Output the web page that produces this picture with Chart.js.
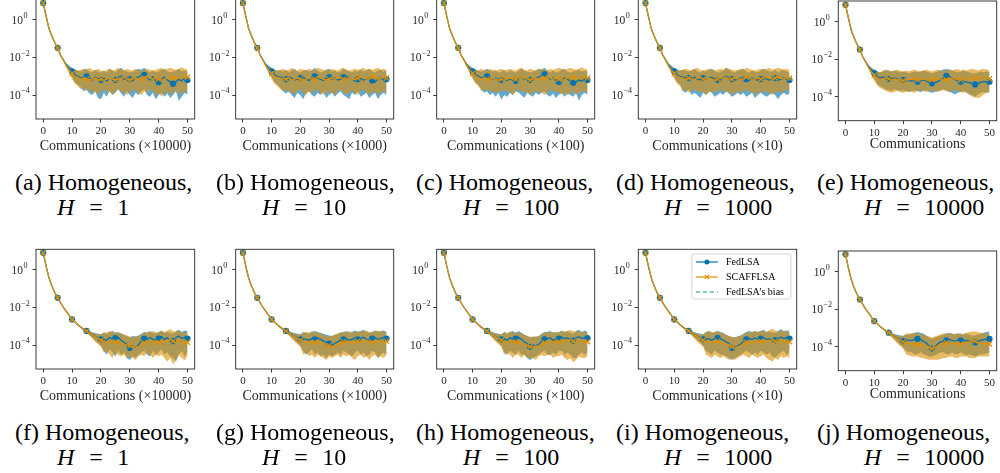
<!DOCTYPE html>
<html>
<head>
<meta charset="utf-8">
<script src="https://cdn.jsdelivr.net/npm/chart.js@4.4.0/dist/chart.umd.min.js"></script>
<style>
  html, body { margin: 0; padding: 0; background: #fff; }
  body { width: 1000px; height: 473px; overflow: hidden; position: relative; }
  .panel { position: absolute; }
  .cap { position: absolute; font-family: "Liberation Serif", "Times New Roman", serif;
         font-size: 24px; line-height: 24px; color: #000; white-space: nowrap; }
  .cap i { font-style: italic; }
  .cap .eq { margin: 0 0.6em 0 0.62em; }
</style>
</head>
<body>
<script>
// ---- axis values ----
const xs = [0,1,2,3,4,5,6,7,8,9,10,11,12,13,14,15,16,17,18,19,20,21,22,23,24,25,
            26,27,28,29,30,31,32,33,34,35,36,37,38,39,40,41,42,43,44,45,46,47,48,49,50];
const xTicks = [0, 10, 20, 30, 40, 50];
const yTicks = [1, 1e-2, 1e-4];
const yMin = 5.25e-6, yMax = 12.7;
const hValues = ['1', '10', '100', '1000', '10000'];
const xUnits = [' (×10000)', ' (×1000)', ' (×100)', ' (×10)', ''];
const tags = ['a','b','c','d','e','f','g','h','i','j'];
const legendOrder = ['FedLSA', 'SCAFFLSA', 'FedLSA’s bias'];

// ---- shared decay phase, top row (x = 0..12) ----
const topFedMeanHead  = [8,1.6,0.35,0.14,0.063,0.033,0.0135,0.0074,0.004,0.0026,0.0018,0.0012,0.001];
const topFedLowHead   = [8,1.6,0.35,0.14,0.063,0.033,0.0135,0.0072,0.0032,0.0018,9e-4,5e-4,3.5e-4];
const topFedHighHead  = [8,1.6,0.35,0.14,0.063,0.033,0.0138,0.0078,0.005,0.0036,0.0028,0.0022,0.002];
const topScafMeanHead = [8,1.6,0.35,0.14,0.063,0.032,0.013,0.007,0.0036,0.0021,0.0014,0.001,8.5e-4];
const topScafLowHead  = [8,1.6,0.35,0.14,0.063,0.032,0.0128,0.0068,0.0028,0.0015,7e-4,4e-4,3e-4];
const topScafHighHead = [8,1.6,0.35,0.14,0.063,0.032,0.0133,0.0074,0.0045,0.0032,0.0025,0.0022,0.002];

// ---- shared decay phase, bottom row (x = 0..20) ----
const botFedMeanHead  = [8.4,1.6,0.38,0.14,0.063,0.033,0.018,0.01,0.0063,0.0038,0.0023,0.0017,0.0012,9e-4,7e-4,5.6e-4,4.5e-4,3.5e-4,2.9e-4,2.4e-4,2e-4];
const botFedLowHead   = [8.4,1.6,0.38,0.14,0.063,0.033,0.018,0.01,0.0063,0.0038,0.0023,0.0017,0.00115,8.4e-4,6.2e-4,4.6e-4,3.4e-4,2.5e-4,1.8e-4,1.3e-4,9e-5];
const botFedHighHead  = [8.4,1.6,0.38,0.14,0.063,0.033,0.018,0.01,0.0063,0.0038,0.0023,0.0017,0.00125,9.6e-4,7.8e-4,6.6e-4,5.6e-4,4.8e-4,4.4e-4,4e-4,3.8e-4];
const botScafMeanHead = [8.4,1.6,0.38,0.14,0.063,0.033,0.018,0.01,0.0063,0.0038,0.0023,0.0017,0.0012,9e-4,7e-4,5.6e-4,4.4e-4,3.4e-4,2.8e-4,2.2e-4,1.8e-4];
const botScafLowHead  = [8.4,1.6,0.38,0.14,0.063,0.033,0.018,0.01,0.0063,0.0038,0.0023,0.0017,0.00115,8.4e-4,6e-4,4.4e-4,3.2e-4,2.2e-4,1.5e-4,1.1e-4,8e-5];
const botScafHighHead = [8.4,1.6,0.38,0.14,0.063,0.033,0.018,0.01,0.0063,0.0038,0.0023,0.0017,0.00125,9.6e-4,7.6e-4,6.4e-4,5.4e-4,4.6e-4,4e-4,3.6e-4,3.4e-4];

// ---- plateau phase, top row (x = 13..50) ----
const aFedMean = [8e-4,9e-4,1e-3,8e-4,6.3e-4,9e-4,7e-4,6.3e-4,8e-4,5.6e-4, 8e-4,7e-4,6.3e-4,9e-4,1e-3,7e-4,8e-4,7e-4,5.6e-4,8e-4, 9e-4,1.1e-3,1.2e-3,8e-4,6.3e-4,9e-4,5.6e-4,4.8e-4,7e-4,9e-4, 6.3e-4,5e-4,4e-4,5e-4,7e-4,5.6e-4,8e-4,6.3e-4];
const aFedLow  = [2.5e-4,1.6e-4,2e-4,1.2e-4,1e-4,1.6e-4,7e-5,6e-5,1.3e-4,8e-5, 1.6e-4,1e-4,1.3e-4,2e-4,1.2e-4,8e-5,1.6e-4,1e-4,7e-5,1.3e-4, 1e-4,1.6e-4,2e-4,1e-4,8e-5,1.3e-4,6e-5,1e-4,1.3e-4,8e-5, 1.2e-4,7e-5,1e-4,1.6e-4,5e-5,8e-5,1.3e-4,1e-4];
const aFedHigh = [1.8e-3,2.2e-3,2.5e-3,1.8e-3,1.6e-3,2.2e-3,1.8e-3,1.6e-3,2e-3,1.6e-3, 2.5e-3,2e-3,1.6e-3,2.2e-3,2.8e-3,2e-3,1.8e-3,1.6e-3,1.8e-3,2e-3, 2.5e-3,2.2e-3,2.8e-3,2e-3,1.6e-3,2e-3,1.6e-3,1.8e-3,2.2e-3,2.5e-3, 1.8e-3,1.6e-3,1.8e-3,2e-3,2.5e-3,1.8e-3,2e-3,1.8e-3];
const aScafMean = [7e-4,8e-4,7e-4,6.3e-4,7e-4,8e-4,6.3e-4,7e-4,6.3e-4,7e-4, 8e-4,7e-4,6.3e-4,7e-4,8e-4,9e-4,7e-4,6.3e-4,7e-4,8e-4, 7e-4,6.3e-4,8e-4,9e-4,8e-4,7e-4,8e-4,7e-4,6.3e-4,7e-4, 8e-4,9e-4,8e-4,7e-4,8e-4,9e-4,8e-4,9e-4];
const aScafLow  = [2e-4,2.5e-4,1.6e-4,2e-4,1.3e-4,1.6e-4,1e-4,1.6e-4,2e-4,1.3e-4, 1.6e-4,1e-4,1.6e-4,2e-4,1.3e-4,1.6e-4,1e-4,1.3e-4,2e-4,1.6e-4, 1.3e-4,1e-4,1.6e-4,1.3e-4,2e-4,1.6e-4,1e-4,1.3e-4,8e-5,1.3e-4, 1.6e-4,1e-4,1.3e-4,2e-4,1e-4,1.3e-4,1.6e-4,1.3e-4];
const aScafHigh = [2.2e-3,2.5e-3,2e-3,2.8e-3,2.2e-3,2e-3,2.5e-3,2e-3,1.8e-3,2.2e-3, 2.5e-3,2e-3,2.2e-3,2.8e-3,2.2e-3,2e-3,2.5e-3,2.2e-3,2e-3,2.5e-3, 2.2e-3,1.8e-3,2.2e-3,2.5e-3,2.2e-3,2e-3,2.2e-3,2.5e-3,2.8e-3,2.2e-3, 2.5e-3,2.8e-3,2.5e-3,2.2e-3,2.5e-3,3e-3,2.5e-3,2.2e-3];

const bFedMean = [9e-4,8e-4,7e-4,9e-4,8e-4,6.3e-4,7e-4,8e-4,9e-4,7e-4, 6e-4,8e-4,1e-3,8e-4,7e-4,6e-4,8e-4,9e-4,7e-4,8e-4, 6.3e-4,7e-4,9e-4,1e-3,8e-4,6.3e-4,5.6e-4,7e-4,8e-4,6.3e-4, 7e-4,8e-4,6e-4,5e-4,7e-4,8e-4,6.3e-4,7e-4];
const bFedLow  = [2.5e-4,1.6e-4,1.2e-4,1.6e-4,1e-4,7e-5,1.3e-4,1e-4,6e-5,1.3e-4, 1.6e-4,1e-4,8e-5,1.3e-4,1e-4,1.6e-4,7e-5,1e-4,1.3e-4,8e-5, 1.2e-4,1.6e-4,1e-4,8e-5,6e-5,1.3e-4,1e-4,1.6e-4,8e-5,1e-4, 1.3e-4,7e-5,1e-4,1.3e-4,6e-5,1e-4,1.3e-4,1e-4];
const bFedHigh = [2e-3,1.8e-3,2.2e-3,1.6e-3,2e-3,2.5e-3,1.8e-3,1.6e-3,2e-3,2.2e-3, 1.8e-3,2e-3,2.8e-3,2e-3,1.6e-3,1.8e-3,2.2e-3,2.5e-3,1.8e-3,2e-3, 1.6e-3,1.8e-3,2.5e-3,2.2e-3,1.8e-3,1.6e-3,2e-3,1.8e-3,2.2e-3,1.8e-3, 2e-3,2.5e-3,1.8e-3,1.6e-3,2e-3,2.2e-3,1.8e-3,2e-3];
const bScafMean = [8e-4,7e-4,7e-4,8e-4,6.3e-4,7e-4,8e-4,7e-4,6.3e-4,7e-4, 8e-4,7e-4,7e-4,9e-4,8e-4,7e-4,6.3e-4,7e-4,8e-4,7e-4, 8e-4,9e-4,7e-4,7e-4,8e-4,6.3e-4,7e-4,8e-4,9e-4,8e-4, 7e-4,8e-4,9e-4,8e-4,7e-4,8e-4,9e-4,8e-4];
const bScafLow  = [2e-4,1.6e-4,2e-4,1.3e-4,1.6e-4,1e-4,1.6e-4,2e-4,1.3e-4,1e-4, 1.6e-4,1.3e-4,1.6e-4,2e-4,1.3e-4,1e-4,1.3e-4,1.6e-4,1.3e-4,1e-4, 1.6e-4,2e-4,1.3e-4,1e-4,1.3e-4,1.6e-4,1.3e-4,1e-4,1.6e-4,2e-4, 1.3e-4,1e-4,1.6e-4,1.3e-4,1e-4,1.6e-4,1.3e-4,1.6e-4];
const bScafHigh = [2.2e-3,2.5e-3,2e-3,2.2e-3,2.8e-3,2.2e-3,2e-3,2.5e-3,2.2e-3,2e-3, 2.5e-3,2.2e-3,2e-3,2.8e-3,2.5e-3,2.2e-3,2e-3,2.2e-3,2.5e-3,2.2e-3, 2e-3,2.5e-3,2.8e-3,2.2e-3,2e-3,2.2e-3,2.5e-3,2.2e-3,2.5e-3,2.8e-3, 2.2e-3,2.5e-3,2.2e-3,2.5e-3,2.8e-3,2.2e-3,2.5e-3,2.2e-3];

const cFedMean = [8e-4,9e-4,1e-3,8e-4,7e-4,8e-4,6.3e-4,6.3e-4,7e-4,6e-4, 7e-4,6.3e-4,5.6e-4,8e-4,9e-4,7e-4,7e-4,6.3e-4,7e-4,8e-4, 9e-4,1.1e-3,1.3e-3,9e-4,7e-4,8e-4,6e-4,5e-4,6.3e-4,8e-4, 7e-4,5.6e-4,4.5e-4,5e-4,6.3e-4,5.6e-4,7e-4,6.3e-4];
const cFedLow  = [2e-4,1.3e-4,1.6e-4,1e-4,1.3e-4,8e-5,1.3e-4,5.6e-5,1e-4,8e-5, 1.3e-4,1e-4,1.6e-4,1.3e-4,1e-4,7e-5,1.3e-4,1e-4,8e-5,1.3e-4, 1e-4,1.3e-4,1.6e-4,1e-4,8e-5,1.2e-4,7e-5,1e-4,1.3e-4,8e-5, 1.2e-4,1e-4,8e-5,1.3e-4,5e-5,1e-4,1.3e-4,1e-4];
const cFedHigh = [1.8e-3,2e-3,2.5e-3,2e-3,1.8e-3,2e-3,1.6e-3,1.8e-3,2.2e-3,1.6e-3, 2e-3,1.8e-3,1.6e-3,2e-3,2.5e-3,2e-3,1.8e-3,1.6e-3,1.8e-3,2e-3, 2.5e-3,2.2e-3,2.8e-3,2e-3,1.6e-3,2e-3,1.6e-3,1.8e-3,2.2e-3,2.5e-3, 1.8e-3,1.6e-3,1.8e-3,2e-3,2.2e-3,1.8e-3,2e-3,1.8e-3];
const cScafMean = [7e-4,8e-4,7e-4,7e-4,8e-4,7e-4,6.3e-4,7e-4,6.3e-4,7e-4, 8e-4,7e-4,7e-4,8e-4,9e-4,8e-4,7e-4,6.3e-4,7e-4,8e-4, 7e-4,7e-4,8e-4,9e-4,8e-4,7e-4,8e-4,7e-4,6.3e-4,7e-4, 8e-4,9e-4,8e-4,7e-4,8e-4,9e-4,8e-4,8e-4];
const cScafLow  = [1.6e-4,2e-4,1.6e-4,2e-4,1.3e-4,1.6e-4,1.3e-4,1.6e-4,2e-4,1.3e-4, 1.6e-4,1e-4,1.6e-4,2e-4,1.3e-4,1.6e-4,1.3e-4,1e-4,1.6e-4,1.3e-4, 1.6e-4,1.3e-4,1e-4,1.3e-4,2e-4,1.6e-4,1.3e-4,1.6e-4,1e-4,1.3e-4, 1e-4,1.3e-4,1.6e-4,1e-4,1.3e-4,1.6e-4,1.3e-4,1.6e-4];
const cScafHigh = [2.5e-3,2.2e-3,2e-3,2.5e-3,2.2e-3,2e-3,2.2e-3,2.5e-3,2e-3,2.2e-3, 2.5e-3,2.2e-3,2e-3,2.5e-3,2.8e-3,2.2e-3,2e-3,2.5e-3,2.2e-3,2e-3, 2.2e-3,2.5e-3,2.2e-3,2e-3,2.5e-3,2.2e-3,2.5e-3,2.8e-3,2.5e-3,2.2e-3, 2.5e-3,2.8e-3,2.5e-3,2.2e-3,2.5e-3,3e-3,2.5e-3,2.2e-3];

const dFedMean = [9e-4,8e-4,8e-4,7e-4,9e-4,7e-4,6.3e-4,8e-4,7e-4,8e-4, 9e-4,7e-4,6.3e-4,7e-4,8e-4,1e-3,8e-4,7e-4,6.3e-4,7e-4, 8e-4,9e-4,7e-4,6e-4,8e-4,7e-4,6e-4,7e-4,9e-4,7e-4, 6.3e-4,7e-4,8e-4,6e-4,7e-4,8e-4,7e-4,6.3e-4];
const dFedLow  = [1.6e-4,1.3e-4,2e-4,1e-4,1.3e-4,1e-4,7e-5,1.3e-4,1e-4,1.6e-4, 1.3e-4,8e-5,1e-4,1.3e-4,1e-4,1.6e-4,1.2e-4,8e-5,1e-4,1.3e-4, 1e-4,1.3e-4,8e-5,1e-4,1.3e-4,7e-5,1e-4,1.3e-4,1e-4,8e-5, 1e-4,1.3e-4,1e-4,6e-5,1e-4,1.3e-4,1e-4,1.2e-4];
const dFedHigh = [2.2e-3,2e-3,1.8e-3,2e-3,2.5e-3,1.8e-3,1.6e-3,2e-3,1.8e-3,2.2e-3, 2.5e-3,2e-3,1.6e-3,1.8e-3,2e-3,2.8e-3,2.2e-3,1.8e-3,1.6e-3,2e-3, 2.2e-3,2.5e-3,1.8e-3,1.6e-3,2e-3,1.8e-3,1.6e-3,2e-3,2.5e-3,2e-3, 1.8e-3,1.8e-3,2.2e-3,1.6e-3,2e-3,2.2e-3,1.8e-3,1.6e-3];
const dScafMean = [8e-4,7e-4,8e-4,7e-4,7e-4,8e-4,9e-4,7e-4,7e-4,8e-4, 7e-4,6.3e-4,7e-4,8e-4,8e-4,9e-4,7e-4,7e-4,8e-4,7e-4, 7e-4,8e-4,9e-4,8e-4,7e-4,7e-4,8e-4,7e-4,8e-4,9e-4, 8e-4,7e-4,8e-4,9e-4,8e-4,7e-4,8e-4,8e-4];
const dScafLow  = [1.6e-4,2e-4,1.3e-4,1.6e-4,2e-4,1.6e-4,1.3e-4,1.6e-4,1e-4,1.3e-4, 1.6e-4,1.3e-4,1.6e-4,2e-4,1.6e-4,1.3e-4,1.6e-4,1e-4,1.3e-4,1.6e-4, 1.3e-4,1.6e-4,2e-4,1.3e-4,1.6e-4,1e-4,1.3e-4,1.6e-4,1.3e-4,1.6e-4, 1.3e-4,1e-4,1.3e-4,1.6e-4,1.3e-4,1.6e-4,2e-4,1.3e-4];
const dScafHigh = [2.2e-3,2.5e-3,2.2e-3,2e-3,2.5e-3,2.8e-3,2.2e-3,2e-3,2.2e-3,2.5e-3, 2.2e-3,2e-3,2.2e-3,2.5e-3,2.2e-3,2.8e-3,2.5e-3,2.2e-3,2e-3,2.2e-3, 2.5e-3,2.2e-3,2.8e-3,2.5e-3,2.2e-3,2e-3,2.2e-3,2.5e-3,2.2e-3,2.5e-3, 2.8e-3,2.2e-3,2.5e-3,2.8e-3,2.5e-3,2.2e-3,2.5e-3,2.2e-3];

const eFedMean = [1.1e-3,1e-3,9e-4,9e-4,1e-3,9e-4,8e-4,8e-4,8e-4,7e-4, 7e-4,7e-4,6.3e-4,7e-4,8e-4,7e-4,6e-4,5.2e-4,5.6e-4,6.3e-4, 8e-4,1e-3,1.3e-3,1.2e-3,1e-3,8e-4,7e-4,6.3e-4,6.3e-4,6e-4, 5.6e-4,5e-4,4.5e-4,5e-4,6e-4,6.3e-4,6e-4,6.3e-4];
const eFedLow  = [3e-4,2.5e-4,2.2e-4,2e-4,2.5e-4,2.2e-4,2e-4,2.2e-4,2e-4,1.8e-4, 2e-4,2.2e-4,2e-4,1.8e-4,2e-4,2.2e-4,1.8e-4,1.6e-4,1.8e-4,2e-4, 2.2e-4,2.5e-4,2.2e-4,1.8e-4,1.6e-4,1.3e-4,1.6e-4,1.8e-4,2e-4,1.6e-4, 1.3e-4,1.2e-4,1e-4,1.3e-4,1.6e-4,1.8e-4,1.6e-4,1.8e-4];
const eFedHigh = [2.2e-3,2.5e-3,2.5e-3,2.2e-3,2.5e-3,2.2e-3,2e-3,2.2e-3,2e-3,1.8e-3, 2e-3,2.2e-3,2e-3,2.2e-3,2.5e-3,2.2e-3,2e-3,1.8e-3,2e-3,2.2e-3, 2.5e-3,2.8e-3,3e-3,2.8e-3,2.5e-3,2.2e-3,2e-3,2.2e-3,2.5e-3,2.2e-3, 2e-3,1.8e-3,1.8e-3,2e-3,2.2e-3,2e-3,2.2e-3,2e-3];
const eScafMean = [9e-4,1e-3,9e-4,8e-4,9e-4,8e-4,8e-4,7e-4,8e-4,8e-4, 9e-4,8e-4,8e-4,8e-4,9e-4,8e-4,7e-4,8e-4,8e-4,9e-4, 9e-4,8e-4,8e-4,9e-4,1e-3,9e-4,8e-4,8e-4,9e-4,1e-3, 9e-4,9e-4,1e-3,9e-4,1e-3,1.1e-3,1e-3,9e-4];
const eScafLow  = [2.5e-4,2e-4,1.8e-4,1.6e-4,1.8e-4,2e-4,1.8e-4,1.6e-4,1.8e-4,2e-4, 1.8e-4,1.6e-4,2e-4,2.2e-4,2e-4,1.8e-4,2e-4,2.2e-4,2e-4,1.8e-4, 2e-4,2.2e-4,2e-4,1.8e-4,2e-4,2.2e-4,2e-4,1.8e-4,1.6e-4,1.8e-4, 1.3e-4,1e-4,9e-5,8.5e-5,1e-4,1.3e-4,1.6e-4,1.8e-4];
const eScafHigh = [2.5e-3,2.8e-3,2.5e-3,2.2e-3,2.5e-3,2.8e-3,2.5e-3,2.2e-3,2.5e-3,2.2e-3, 2.5e-3,2.8e-3,2.5e-3,2.2e-3,2.5e-3,2.8e-3,2.5e-3,2.2e-3,2.5e-3,2.8e-3, 2.5e-3,2.2e-3,2.5e-3,2.8e-3,2.5e-3,2.8e-3,3e-3,2.5e-3,2.8e-3,2.5e-3, 2.8e-3,3e-3,2.8e-3,2.5e-3,2.8e-3,3e-3,2.8e-3,2.5e-3];

// ---- plateau phase, bottom row (x = 21..50) ----
const fFedMean = [2e-4,1.8e-4,2.5e-4,2e-4,2.3e-4,2.5e-4,1.8e-4,1.4e-4,1.1e-4,7e-5, 9e-5,8e-5,1e-4,1.6e-4,2.2e-4,2e-4,2.5e-4,2e-4,1.8e-4,2.2e-4, 2.8e-4,2e-4,2.4e-4,1.8e-4,1.6e-4,2.5e-4,3e-4,2.2e-4,2.6e-4,2.2e-4];
const fFedLow  = [5e-5,3e-5,6e-5,4e-5,2.5e-5,5e-5,3e-5,4e-5,2e-5,1.6e-5, 2.5e-5,2e-5,3e-5,4e-5,5e-5,3e-5,2.5e-5,5e-5,3e-5,4e-5, 6e-5,3e-5,4e-5,2.5e-5,2e-5,1.3e-5,3e-5,5e-5,2.5e-5,4e-5];
const fFedHigh = [4.5e-4,4e-4,5e-4,5.5e-4,4.5e-4,5e-4,4e-4,3.5e-4,3e-4,2.5e-4, 3e-4,2.8e-4,3.2e-4,4e-4,5e-4,4.5e-4,5.5e-4,4.5e-4,4e-4,5e-4, 6e-4,4.5e-4,5e-4,4.5e-4,4e-4,5.5e-4,6.5e-4,5e-4,6e-4,5.5e-4];
const fScafMean = [1.6e-4,1.4e-4,1.6e-4,1.3e-4,1.5e-4,1.4e-4,1.2e-4,1.1e-4,1e-4,9e-5, 8e-5,9e-5,7.5e-5,1e-4,1.3e-4,1.6e-4,1.3e-4,1.5e-4,1.6e-4,1.4e-4, 1.8e-4,1.5e-4,1.6e-4,2e-4,1.6e-4,1.4e-4,1.8e-4,1.5e-4,1.3e-4,1.4e-4];
const fScafLow  = [4e-5,5e-5,3e-5,2e-5,4e-5,3e-5,2.5e-5,3e-5,2e-5,2.5e-5, 2e-5,1.6e-5,2.5e-5,3e-5,2.5e-5,4e-5,3e-5,2e-5,3e-5,2.5e-5, 3e-5,2e-5,1.3e-5,2e-5,9e-6,1.6e-5,3e-5,2e-5,1.6e-5,2.5e-5];
const fScafHigh = [5e-4,4.5e-4,5.5e-4,4.5e-4,5e-4,4e-4,4.5e-4,3.5e-4,3.2e-4,2.8e-4, 2.5e-4,3e-4,2.8e-4,3.5e-4,4.5e-4,5e-4,4.5e-4,5.5e-4,5e-4,4.5e-4, 5.5e-4,5e-4,6e-4,7e-4,5.5e-4,5e-4,6e-4,5e-4,4.5e-4,5e-4];

const gFedMean = [2.2e-4,2e-4,1.8e-4,2.2e-4,2e-4,2.4e-4,2e-4,1.6e-4,1.4e-4,1.2e-4, 1e-4,1.2e-4,1.5e-4,1.8e-4,2e-4,2.2e-4,1.8e-4,2e-4,2.4e-4,2e-4, 2.2e-4,2.6e-4,2e-4,1.8e-4,2.2e-4,2.5e-4,2e-4,2.2e-4,2.6e-4,2.2e-4];
const gFedLow  = [5e-5,3e-5,4e-5,6e-5,3e-5,4e-5,2.5e-5,3e-5,2e-5,3e-5, 2.5e-5,3e-5,4e-5,3e-5,5e-5,4e-5,3e-5,2.5e-5,4e-5,5e-5, 3e-5,4e-5,2.5e-5,3e-5,5e-5,4e-5,2e-5,3e-5,4e-5,3e-5];
const gFedHigh = [5e-4,4.5e-4,4e-4,5e-4,5.5e-4,5e-4,4.5e-4,4e-4,3.5e-4,3.2e-4, 3e-4,3.5e-4,4e-4,4.5e-4,5e-4,5.5e-4,4.5e-4,5e-4,6e-4,5e-4, 5.5e-4,6.5e-4,5e-4,4.5e-4,5e-4,6e-4,5e-4,5.5e-4,6e-4,5e-4];
const gScafMean = [1.6e-4,1.5e-4,1.3e-4,1.5e-4,1.4e-4,1.6e-4,1.3e-4,1.2e-4,1e-4,9e-5, 8e-5,9e-5,1.1e-4,1.3e-4,1.5e-4,1.4e-4,1.6e-4,1.3e-4,1.5e-4,1.6e-4, 1.4e-4,1.6e-4,1.8e-4,1.5e-4,1.4e-4,1.6e-4,1.8e-4,1.5e-4,1.4e-4,1.6e-4];
const gScafLow  = [3e-5,4e-5,2.5e-5,3e-5,2e-5,3e-5,2.5e-5,2e-5,1.6e-5,2.5e-5, 2e-5,2.5e-5,3e-5,2e-5,3e-5,2.5e-5,3e-5,2e-5,1.6e-5,2.5e-5, 3e-5,2e-5,2.5e-5,1.6e-5,2.5e-5,3e-5,2e-5,2.5e-5,2e-5,3e-5];
const gScafHigh = [4.5e-4,5e-4,4.5e-4,5.5e-4,4.5e-4,5e-4,4e-4,3.5e-4,3e-4,2.8e-4, 3e-4,3.5e-4,4e-4,5e-4,4.5e-4,5e-4,5.5e-4,4.5e-4,5e-4,5.5e-4, 5e-4,5.5e-4,6e-4,5e-4,4.5e-4,5.5e-4,6e-4,5e-4,5.5e-4,5e-4];

const hFedMean = [2.2e-4,1.8e-4,2.4e-4,2e-4,2.2e-4,2.6e-4,2e-4,1.5e-4,1.2e-4,8e-5, 1e-4,9e-5,1.1e-4,1.5e-4,2e-4,2.2e-4,2.4e-4,1.8e-4,2e-4,2.2e-4, 2.6e-4,2.2e-4,2.4e-4,2e-4,1.7e-4,2.4e-4,2.8e-4,2.2e-4,2.5e-4,2.3e-4];
const hFedLow  = [4e-5,3e-5,5e-5,4e-5,3e-5,5e-5,3e-5,3e-5,2e-5,1.6e-5, 2e-5,2.5e-5,3e-5,4e-5,5e-5,3e-5,3e-5,4e-5,3e-5,5e-5, 5e-5,3e-5,4e-5,3e-5,2e-5,2e-5,3e-5,4e-5,3e-5,4e-5];
const hFedHigh = [5e-4,4e-4,5e-4,5.5e-4,4.5e-4,5.5e-4,4.5e-4,3.5e-4,3e-4,2.5e-4, 2.8e-4,2.6e-4,3e-4,4e-4,5e-4,5e-4,5.5e-4,4.5e-4,4.5e-4,5e-4, 6e-4,5e-4,5.5e-4,4.5e-4,4e-4,5.5e-4,6.5e-4,5e-4,6e-4,5e-4];
const hScafMean = [1.5e-4,1.4e-4,1.6e-4,1.4e-4,1.5e-4,1.3e-4,1.2e-4,1.1e-4,9e-5,8e-5, 8e-5,9e-5,8e-5,1e-4,1.3e-4,1.5e-4,1.4e-4,1.5e-4,1.6e-4,1.5e-4, 1.7e-4,1.5e-4,1.6e-4,1.9e-4,1.6e-4,1.4e-4,1.7e-4,1.5e-4,1.4e-4,1.5e-4];
const hScafLow  = [3e-5,4e-5,3e-5,2e-5,3e-5,3e-5,2e-5,3e-5,2e-5,2e-5, 2e-5,1.6e-5,2.5e-5,3e-5,2.5e-5,3e-5,3e-5,2e-5,2.5e-5,2.5e-5, 3e-5,2e-5,1.6e-5,2e-5,1.2e-5,1.6e-5,2.5e-5,2e-5,2e-5,2.5e-5];
const hScafHigh = [5e-4,4.5e-4,5e-4,4.5e-4,5e-4,4e-4,4.5e-4,3.5e-4,3e-4,2.8e-4, 2.6e-4,3e-4,2.8e-4,3.5e-4,4.5e-4,5e-4,4.5e-4,5e-4,5e-4,4.5e-4, 5.5e-4,5e-4,5.5e-4,6.5e-4,5.5e-4,5e-4,5.5e-4,5e-4,4.5e-4,5e-4];

const iFedMean = [2e-4,2.2e-4,1.8e-4,2.2e-4,2.4e-4,2.2e-4,1.8e-4,1.5e-4,1.2e-4,7e-5, 8e-5,9e-5,1.1e-4,1.6e-4,2e-4,2.2e-4,2e-4,2.4e-4,2e-4,2.2e-4, 2.5e-4,2e-4,2.2e-4,1.8e-4,1.8e-4,2.2e-4,2.6e-4,2.2e-4,2.5e-4,2.2e-4];
const iFedLow  = [5e-5,4e-5,3e-5,5e-5,4e-5,3e-5,3e-5,2.5e-5,2e-5,1.6e-5, 2e-5,2.5e-5,3e-5,4e-5,5e-5,4e-5,3e-5,4e-5,3e-5,5e-5, 4e-5,3e-5,4e-5,2.5e-5,2e-5,3e-5,4e-5,5e-5,3e-5,4e-5];
const iFedHigh = [5e-4,5.5e-4,4.5e-4,5e-4,5.5e-4,5e-4,4.5e-4,3.5e-4,3e-4,2.5e-4, 2.6e-4,2.8e-4,3.2e-4,4e-4,5e-4,5.5e-4,5e-4,5.5e-4,5e-4,5.5e-4, 6.5e-4,5e-4,5.5e-4,4.5e-4,4.5e-4,5.5e-4,7e-4,5.5e-4,6e-4,5.5e-4];
const iScafMean = [1.5e-4,1.6e-4,1.4e-4,1.5e-4,1.6e-4,1.4e-4,1.2e-4,1.1e-4,9e-5,8e-5, 7.5e-5,8e-5,9e-5,1.1e-4,1.4e-4,1.5e-4,1.3e-4,1.6e-4,1.5e-4,1.6e-4, 1.8e-4,1.5e-4,1.6e-4,1.9e-4,1.6e-4,1.5e-4,1.8e-4,1.6e-4,1.4e-4,1.5e-4];
const iScafLow  = [3e-5,2.5e-5,2e-5,3e-5,2.5e-5,2e-5,2.5e-5,2e-5,1.6e-5,2e-5, 1.6e-5,2e-5,2.5e-5,3e-5,2.5e-5,2e-5,3e-5,2.5e-5,2e-5,2.5e-5, 3e-5,2e-5,1.6e-5,1.3e-5,2e-5,1.6e-5,2.5e-5,2e-5,2.5e-5,2e-5];
const iScafHigh = [5e-4,5.5e-4,5e-4,4.5e-4,5.5e-4,5e-4,4e-4,3.5e-4,3e-4,2.8e-4, 2.5e-4,2.8e-4,3e-4,3.5e-4,4.5e-4,5e-4,4.5e-4,5.5e-4,5e-4,5.5e-4, 6e-4,5e-4,6e-4,7.5e-4,6e-4,5e-4,6e-4,5.5e-4,5e-4,5.5e-4];

const jFedMean = [2.3e-4,2.2e-4,2.2e-4,2.4e-4,2.6e-4,2.4e-4,2e-4,1.6e-4,1.1e-4,8e-5, 1e-4,1.4e-4,1.8e-4,2e-4,2.2e-4,2.4e-4,2.2e-4,2e-4,2.2e-4,2.2e-4, 2e-4,2.2e-4,2e-4,1.8e-4,1.7e-4,1.9e-4,2.2e-4,2.4e-4,2.5e-4,2.6e-4];
const jFedLow  = [6e-5,5e-5,5e-5,4e-5,4e-5,5e-5,4e-5,3.5e-5,3e-5,3e-5, 3.5e-5,4e-5,5e-5,5e-5,4e-5,4e-5,5e-5,4e-5,4e-5,5e-5, 4e-5,3.5e-5,4e-5,3.5e-5,3e-5,3.5e-5,4e-5,4e-5,4.5e-5,5e-5];
const jFedHigh = [4.5e-4,4.5e-4,5e-4,5.5e-4,6e-4,5.5e-4,5e-4,4e-4,3.2e-4,2.6e-4, 3e-4,3.5e-4,4e-4,4.5e-4,5e-4,5.5e-4,5e-4,4.5e-4,5e-4,5e-4, 4.5e-4,5e-4,4.5e-4,4e-4,4e-4,4.5e-4,5e-4,5.5e-4,6e-4,6.5e-4];
const jScafMean = [1.6e-4,1.5e-4,1.4e-4,1.4e-4,1.3e-4,1.3e-4,1.2e-4,1.1e-4,9e-5,8e-5, 9e-5,1.1e-4,1.3e-4,1.5e-4,1.6e-4,1.5e-4,1.4e-4,1.5e-4,1.4e-4,1.4e-4, 1.6e-4,1.7e-4,1.8e-4,1.9e-4,2e-4,1.7e-4,1.5e-4,1.4e-4,1.4e-4,1.4e-4];
const jScafLow  = [4e-5,3.5e-5,3e-5,3e-5,3e-5,2.5e-5,2.5e-5,2.2e-5,2e-5,2e-5, 2e-5,2e-5,2.2e-5,2.5e-5,2.5e-5,3e-5,3e-5,2.5e-5,2.5e-5,3e-5, 3e-5,3e-5,2.5e-5,2.5e-5,2.5e-5,3e-5,3e-5,3e-5,3e-5,3e-5];
const jScafHigh = [5e-4,5e-4,5e-4,5.5e-4,5e-4,4.5e-4,4.5e-4,4e-4,3.5e-4,3.2e-4, 3.5e-4,4e-4,4.5e-4,5e-4,5e-4,5e-4,4.5e-4,5e-4,5e-4,4.5e-4, 5e-4,5.5e-4,6e-4,6.5e-4,6.5e-4,6e-4,5.5e-4,5e-4,5e-4,5e-4];

// ---- panels: decay head + plateau tail per series ----
const topTails = [
  [aFedMean,aFedLow,aFedHigh,aScafMean,aScafLow,aScafHigh],
  [bFedMean,bFedLow,bFedHigh,bScafMean,bScafLow,bScafHigh],
  [cFedMean,cFedLow,cFedHigh,cScafMean,cScafLow,cScafHigh],
  [dFedMean,dFedLow,dFedHigh,dScafMean,dScafLow,dScafHigh],
  [eFedMean,eFedLow,eFedHigh,eScafMean,eScafLow,eScafHigh]
];
const botTails = [
  [fFedMean,fFedLow,fFedHigh,fScafMean,fScafLow,fScafHigh],
  [gFedMean,gFedLow,gFedHigh,gScafMean,gScafLow,gScafHigh],
  [hFedMean,hFedLow,hFedHigh,hScafMean,hScafLow,hScafHigh],
  [iFedMean,iFedLow,iFedHigh,iScafMean,iScafLow,iScafHigh],
  [jFedMean,jFedLow,jFedHigh,jScafMean,jScafLow,jScafHigh]
];
const topHeads = [topFedMeanHead,topFedLowHead,topFedHighHead,topScafMeanHead,topScafLowHead,topScafHighHead];
const botHeads = [botFedMeanHead,botFedLowHead,botFedHighHead,botScafMeanHead,botScafLowHead,botScafHighHead];

// ---- styling ----
const BLUE = '#0173b2', ORANGE = '#de8f05', GREEN = '#029e73';
const BLUE_BAND = 'rgba(1,115,178,0.62)', ORANGE_BAND = 'rgba(222,143,5,0.62)';
const INK = '#262626';
const SERIF = '"Liberation Serif", "Times New Roman", serif';

// chart-area placement on the page
const areaLeft = [36, 235.7, 436.7, 638.3, 838.3];
const areaTop = [[-0.7, -0.7, -0.7, -0.7, 1.0], [249.3, 249.3, 249.3, 249.3, 251.0]];
const areaW = 162.6, areaH = 119.7;
const titleCenterY = [[146, 146, 146, 146, 144], [396, 396, 396, 396, 394]];
const capLine1X = [15, 216, 416, 616, 817];
const capLine2X = [57, 262, 463, 664, 864];
const capBase1 = [190, 440], capBase2 = [215, 465];

const framePlugin = {
  id: 'frame',
  afterDraw(chart) {
    const { ctx, chartArea: a } = chart;
    ctx.save();
    ctx.strokeStyle = INK;
    ctx.lineWidth = 0.9;
    ctx.strokeRect(a.left, a.top, a.right - a.left, a.bottom - a.top);
    ctx.restore();
  }
};

const powerLabels = {
  id: 'powerLabels',
  afterDraw(chart) {
    const s = chart.scales.y, ctx = chart.ctx;
    const cx = chart.chartArea.left - 16.5;
    ctx.save();
    ctx.fillStyle = INK;
    ctx.textAlign = 'left';
    ctx.textBaseline = 'alphabetic';
    s.ticks.forEach(t => {
      const y = s.getPixelForValue(t.value);
      const e = Math.round(Math.log10(t.value));
      const sup = e < 0 ? '\u2212' + (-e) : String(e);
      ctx.font = '11.5px ' + SERIF;
      const bw = ctx.measureText('10').width;
      ctx.font = '8px ' + SERIF;
      const sw = ctx.measureText(sup).width;
      const x0 = cx - (bw + sw + 0.5) / 2;
      ctx.font = '11.5px ' + SERIF;
      ctx.fillText('10', x0, y + 4);
      ctx.font = '8px ' + SERIF;
      ctx.fillText(sup, x0 + bw + 0.5, y - 1.8);
    });
    ctx.restore();
  }
};

const insetLegend = {
  id: 'insetLegend',
  afterDraw(chart, args, opts) {
    if (!opts || !opts.show) return;
    const ctx = chart.ctx, a = chart.chartArea;
    const w = 99, h = 45, x0 = a.right - 5.8 - w, y0 = a.top + 4.7;
    ctx.save();
    ctx.beginPath();
    ctx.roundRect(x0, y0, w, h, 2.5);
    ctx.fillStyle = 'rgba(255,255,255,0.85)';
    ctx.fill();
    ctx.strokeStyle = '#cccccc';
    ctx.lineWidth = 0.8;
    ctx.stroke();
    legendOrder.forEach((name, k) => {
      const d = chart.data.datasets.find(ds => ds.label === name);
      if (!d) return;
      const y = y0 + 8 + 15 * k;
      ctx.strokeStyle = d.borderColor;
      ctx.lineWidth = 1.2;
      ctx.setLineDash(d.borderDash || []);
      ctx.beginPath();
      ctx.moveTo(x0 + 4, y);
      ctx.lineTo(x0 + 26, y);
      ctx.stroke();
      ctx.setLineDash([]);
      const mx = x0 + 15;
      if (d.pointStyle === 'circle') {
        ctx.fillStyle = d.borderColor;
        ctx.beginPath();
        ctx.arc(mx, y, 2.5, 0, Math.PI * 2);
        ctx.fill();
      } else if (d.pointStyle === 'crossRot') {
        ctx.beginPath();
        ctx.moveTo(mx - 2.2, y - 2.2); ctx.lineTo(mx + 2.2, y + 2.2);
        ctx.moveTo(mx - 2.2, y + 2.2); ctx.lineTo(mx + 2.2, y - 2.2);
        ctx.stroke();
      }
      ctx.fillStyle = '#000';
      ctx.font = '10px ' + SERIF;
      ctx.textAlign = 'left';
      ctx.textBaseline = 'middle';
      ctx.fillText(name, x0 + 34, y);
    });
    ctx.restore();
  }
};

function pts(vals) { return xs.map((x, i) => ({ x: x, y: vals[i] })).filter(p => p.y !== undefined); }
const markerEvery5 = r => (ctx => (ctx.dataIndex % 5 === 0 ? r : 0));

function buildPanel(row, col) {
  const idx = row * 5 + col;
  const heads = row === 0 ? topHeads : botHeads;
  const tails = (row === 0 ? topTails : botTails)[col];
  const s = heads.map((h, k) => h.concat(tails[k]));
  const [fedMean, fedLow, fedHigh, scafMean, scafLow, scafHigh] = s;

  const L = areaLeft[col], T = areaTop[row][col];
  const canvasLeft = Math.floor(L - 36);
  const canvasTop = Math.floor(T - 10);
  const padTop = T - canvasTop;
  const yWidth = L - canvasLeft;
  const CW = 200, CH = 168;
  const padRight = CW - yWidth - areaW;
  const xHeight = CH - padTop - areaH;
  const titlePadBottom = CH - 8.4 - (titleCenterY[row][col] - canvasTop);

  const wrap = document.createElement('div');
  wrap.className = 'panel';
  wrap.style.left = canvasLeft + 'px';
  wrap.style.top = canvasTop + 'px';
  wrap.style.width = CW + 'px';
  wrap.style.height = CH + 'px';
  const cv = document.createElement('canvas');
  cv.width = CW; cv.height = CH;
  cv.style.width = CW + 'px'; cv.style.height = CH + 'px';
  wrap.appendChild(cv);
  document.body.appendChild(wrap);

  const datasets = [
    { label: 'SCAFFLSA', data: pts(scafMean), borderColor: ORANGE, backgroundColor: ORANGE,
      borderWidth: 1.3, pointStyle: 'crossRot', pointRadius: markerEvery5(3.6),
      pointBorderWidth: 1.3, fill: false, tension: 0 },
    { label: 'FedLSA', data: pts(fedMean), borderColor: BLUE, backgroundColor: BLUE,
      borderWidth: 1.3, pointStyle: 'circle', pointRadius: markerEvery5(3.1),
      pointBorderWidth: 0, fill: false, tension: 0 },
    { label: 'FedLSA’s bias', data: [], borderColor: GREEN, borderDash: [4, 3],
      borderWidth: 1.2, pointRadius: 0, fill: false },
    { label: 'SCAFFLSA upper', data: pts(scafHigh), borderWidth: 0, pointRadius: 0,
      borderColor: 'rgba(0,0,0,0)', backgroundColor: ORANGE_BAND, fill: '+1' },
    { label: 'SCAFFLSA lower', data: pts(scafLow), borderWidth: 0, pointRadius: 0,
      borderColor: 'rgba(0,0,0,0)', fill: false },
    { label: 'FedLSA upper', data: pts(fedHigh), borderWidth: 0, pointRadius: 0,
      borderColor: 'rgba(0,0,0,0)', backgroundColor: BLUE_BAND, fill: '+1' },
    { label: 'FedLSA lower', data: pts(fedLow), borderWidth: 0, pointRadius: 0,
      borderColor: 'rgba(0,0,0,0)', fill: false }
  ];

  new Chart(cv, {
    type: 'line',
    data: { datasets },
    plugins: [framePlugin, powerLabels, insetLegend],
    options: {
      responsive: false,
      animation: false,
      devicePixelRatio: 1,
      events: [],
      layout: { padding: { left: 0, top: padTop, right: padRight, bottom: 0 } },
      plugins: {
        legend: { display: false },
        tooltip: { enabled: false },
        insetLegend: { show: idx === 8 }
      },
      scales: {
        x: {
          type: 'linear', min: -2.5, max: 52.5, bounds: 'data',
          afterBuildTicks: sc => { sc.ticks = xTicks.map(v => ({ value: v })); },
          afterFit: sc => { sc.height = xHeight; },
          grid: { drawOnChartArea: false, drawTicks: true, tickLength: 3.5, tickWidth: 0.9, tickColor: INK },
          border: { display: false },
          ticks: { font: { family: SERIF, size: 11 }, color: INK, padding: 2, maxRotation: 0, autoSkip: false },
          title: { display: true, text: 'Communications' + xUnits[col],
                   font: { family: SERIF, size: 14 }, color: INK,
                   padding: { top: 0, bottom: titlePadBottom } }
        },
        y: {
          type: 'logarithmic', min: yMin, max: yMax, bounds: 'data',
          afterBuildTicks: sc => { sc.ticks = yTicks.map(v => ({ value: v })); },
          afterFit: sc => { sc.width = yWidth; },
          grid: { drawOnChartArea: false, drawTicks: true, tickLength: 3.5, tickWidth: 0.9, tickColor: INK },
          border: { display: false },
          ticks: { callback: () => '', padding: 0 }
        }
      }
    }
  });

  // caption below the panel
  const c1 = document.createElement('div');
  c1.className = 'cap';
  c1.style.left = capLine1X[col] + 'px';
  c1.style.top = (capBase1[row] - 20) + 'px';
  c1.textContent = '(' + tags[idx] + ') Homogeneous,';
  document.body.appendChild(c1);
  const c2 = document.createElement('div');
  c2.className = 'cap';
  c2.style.left = capLine2X[col] + 'px';
  c2.style.top = (capBase2[row] - 20) + 'px';
  c2.innerHTML = '<i>H</i><span class="eq">=</span>' + hValues[col];
  document.body.appendChild(c2);
}

for (let r = 0; r < 2; r++) for (let c = 0; c < 5; c++) buildPanel(r, c);
</script>
</body>
</html>
